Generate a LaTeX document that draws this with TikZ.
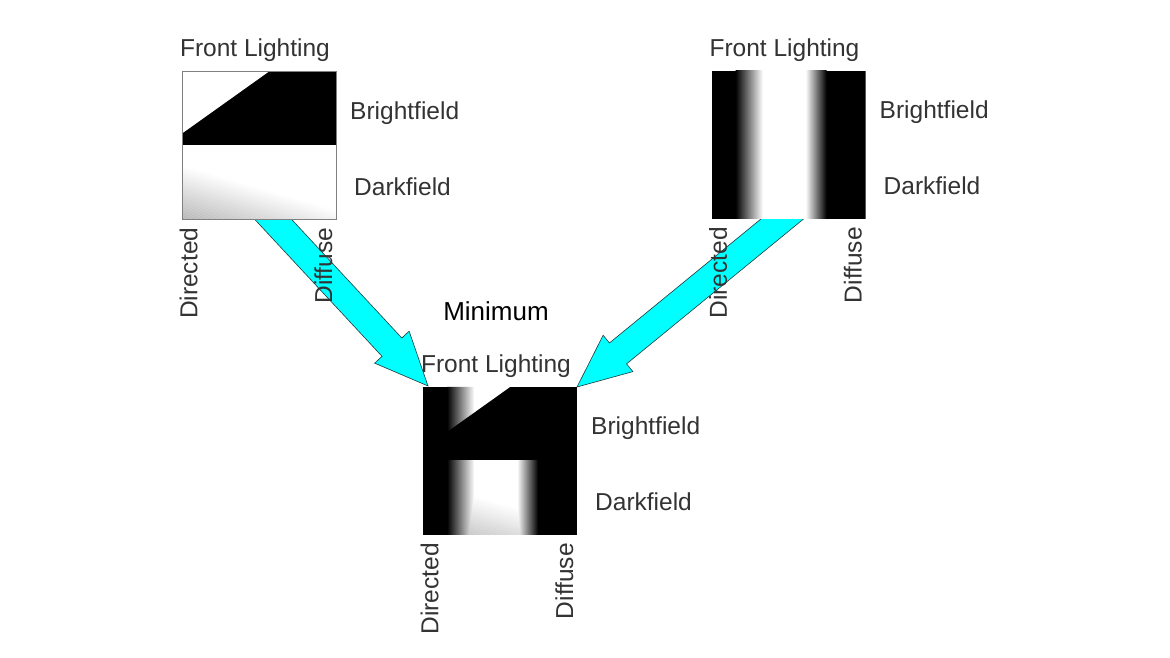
\documentclass[tikz,border=0pt]{standalone}
\usepackage{fontspec}
\setmainfont{Liberation Sans}
\usepackage{xcolor}
\usetikzlibrary{positioning,calc}

\definecolor{labelgray}{HTML}{333333}
\definecolor{arrowcyan}{HTML}{00FFFF}
\definecolor{arrowedge}{HTML}{1F3A3A}

% front lighting map, drawn in a 154 x 148 box
\newcommand{\frontmap}{%
    \fill[black] (0,74) rectangle (154,148);
    \fill[white] (0,148) -- (87,148) -- (0,86) -- cycle;
    \begin{scope}
        \clip (0,0) rectangle (154,74);
        \fill[white] (0,0) rectangle (154,74);
        \begin{scope}[shift={(0,55)},rotate=-16.3]
            \foreach \i [evaluate=\i as \lev using {min(28,\i*0.8)}] in {0,...,40}
                \fill[black!\lev] (-80,{-1.5*\i}) rectangle (220,{-1.5*\i-1.6});
        \end{scope}
    \end{scope}
    \draw[gray,line width=0.8pt] (0,0) rectangle (154,148);
}

% side lighting map, same box
\newcommand{\sidemap}{%
    \begin{scope}
        \clip (0,0) rectangle (154,148);
        \fill[black] (0,0) rectangle (154,148);
        \shade[left color=black,right color=white] (24,-2) rectangle (51.3,150);
        \fill[white] (51,0) rectangle (94.3,148);
        \shade[left color=white,right color=black] (94,-2) rectangle (115,150);
    \end{scope}
}

% minimum of both maps
\newcommand{\minmap}{%
    \fill[black] (0,0) rectangle (154,148);
    \begin{scope}
        \clip (0,148) -- (87,148) -- (0,86) -- cycle;
        \sidemap
    \end{scope}
    \begin{scope}
        \clip (0,0) rectangle (154,74);
        \sidemap
        % each grey band only where it is darker than the columns
        \foreach \i [evaluate=\i as \lev using {min(28,\i*0.8)}] in {1,...,40} {
            \begin{scope}
                \clip ({51-0.27*\lev},0) rectangle ({94.3+0.21*\lev},74);
                \fill[black!\lev,shift={(0,55)},rotate=-16.3]
                    (-80,{-1.5*\i}) rectangle (220,{-1.5*\i-1.6});
            \end{scope}
        }
    \end{scope}
}

% block arrow from #1 to #2
\newcommand{\blockarrow}[2]{%
    \coordinate (headbase) at ($(#2)!53pt!(#1)$);
    \filldraw[fatarrow]
        ($(#1)!13.5pt!90:(#2)$) -- ($(headbase)!13.5pt!-90:(#1)$) --
        ($(headbase)!23.5pt!-90:(#1)$) -- (#2) --
        ($(headbase)!23.5pt!90:(#1)$) -- ($(headbase)!13.5pt!90:(#1)$) --
        ($(#1)!13.5pt!-90:(#2)$) -- cycle;
}

\begin{document}
\begin{tikzpicture}[x=1pt,y=1pt,
    mapbox/.style={minimum width=154pt,minimum height=148pt,inner sep=0pt,outer sep=0pt},
    lbl/.style={font=\fontsize{24.5}{29}\selectfont,text=labelgray,inner sep=0pt},
    fatarrow/.style={fill=arrowcyan,draw=arrowedge,line width=0.6pt,line join=miter}]

    \fill[white] (0,0) rectangle (1170,658);
    \useasboundingbox (0,0) rectangle (1170,658);

    % frames
    \node[mapbox] (frontA) at (259,512.5) {};
    \node[mapbox] (sideB) at (788.5,513) {};
    \node[mapbox] (minC) at (500,197) {};

    % arrows
    \coordinate (tailA) at ([shift={(-1.5,17)}]frontA.south);
    \coordinate (tipA) at ([shift={(5,1)}]minC.north west);
    \coordinate (tailB) at ([shift={(14.5,17)}]sideB.south);
    \coordinate (tipB) at (minC.north east);
    \blockarrow{tailA}{tipA}
    \blockarrow{tailB}{tipB}

    % maps
    \begin{scope}[shift={(frontA.south west)}]
        \frontmap
    \end{scope}
    \begin{scope}[shift={(sideB.south west)}]
        \sidemap
    \end{scope}
    \begin{scope}[shift={(minC.south west)}]
        \minmap
    \end{scope}

    % labels
    \foreach \m in {frontA,sideB,minC} {
        \node[lbl,anchor=base] (\m-top) at ([shift={(-4,14.5)}]\m.north) {Front Lighting};
        \node[lbl,anchor=base west] (\m-bright) at ([shift={(14,-48)}]\m.north east) {Brightfield};
        \node[lbl,anchor=base west] (\m-dark) at ([shift={(18,-124)}]\m.north east) {Darkfield};
        \node[lbl,rotate=90,anchor=north east] (\m-dir) at ([shift={(-2.5,-8)}]\m.south west) {Directed};
        \node[lbl,rotate=90,anchor=south east] (\m-diff) at ([shift={(-3.5,-8)}]\m.south east) {Diffuse};
    }
    \node[font=\fontsize{26}{31}\selectfont,inner sep=0pt,anchor=base] (mintitle)
        at ([yshift=52pt]minC-top.base) {Minimum};

\end{tikzpicture}
\end{document}
